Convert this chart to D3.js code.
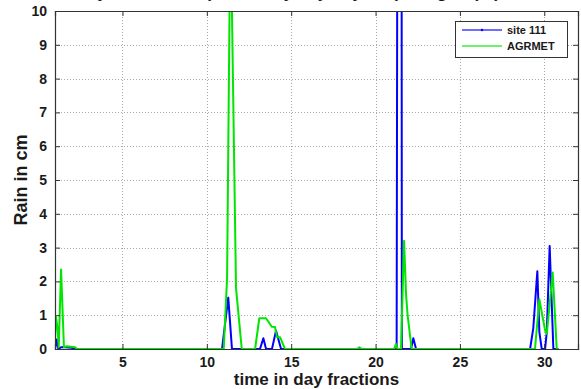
<!DOCTYPE html>
<html>
<head>
<meta charset="utf-8">
<script src="https://cdn.jsdelivr.net/npm/d3@7/dist/d3.min.js"></script>
<style>
  html, body { margin: 0; padding: 0; background: #ffffff; }
  svg { display: block; }
  text { font-family: "Liberation Sans", Arial, sans-serif; font-weight: bold; fill: #1a1a1a; }
</style>
</head>
<body>
<svg id="chart" width="581" height="389"></svg>
<script>
// Rain per observation time (days), station gauge vs AGRMET estimate
const siteTime = [1.0, 1.1, 1.2, 1.35, 1.6, 2.0, 2.1,
  10.9, 11.27, 11.49,
  13.15, 13.35, 13.51, 13.86, 14.1, 14.4,
  21.25, 21.33, 21.53, 21.56, 22.1, 22.24, 22.4,
  29.16, 29.35, 29.59, 29.71, 29.85, 30.05, 30.15, 30.32, 30.54, 30.85];
const siteRain = [0, 0.28, 0, 0.05, 0.05, 0.04, 0,
  0, 1.52, 0,
  0, 0.32, 0, 0, 0.54, 0,
  0, 25, 25, 0, 0, 0.32, 0,
  0, 0.62, 2.3, 0.5, 0, 0, 0.51, 3.05, 0, 0];

const agrTime = [1.0, 1.06, 1.15, 1.22, 1.36, 1.53, 1.7, 2.19, 2.3,
  11.0, 11.2, 11.4, 11.73, 12.07,
  12.86, 13.11, 13.51, 13.85, 14.04, 14.16, 14.34, 14.63,
  18.9, 19.04, 19.2,
  21.1, 21.21, 21.3, 21.51, 21.69, 21.81, 21.9, 22.14,
  29.45, 29.71, 30.05, 30.15, 30.5, 30.74, 30.85];
const agrRain = [0.3, 0.95, 0.6, 0.05, 2.35, 0.05, 0.08, 0.05, 0,
  0, 2.1, 13, 1.8, 0,
  0, 0.91, 0.91, 0.66, 0.65, 0.35, 0.35, 0,
  0, 0.05, 0,
  0, 0.15, 0, 0, 3.2, 1.6, 1.0, 0,
  0, 1.47, 0.55, 0.45, 2.26, 0, 0];

const xTicks = [5, 10, 15, 20, 25, 30];
const yTicks = [0, 1, 2, 3, 4, 5, 6, 7, 8, 9, 10];
const seriesNames = ["site 111", "AGRMET"];
const seriesColors = ["#0000ff", "#00e600"];

const plot = { left: 55, right: 578, top: 11, bottom: 349 };
const svg = d3.select("#chart");

const x = d3.scaleLinear().domain([1, 32]).range([plot.left, plot.right]);
const y = d3.scaleLinear().domain([0, 10]).range([plot.bottom, plot.top]);

// title (sits above the canvas edge, only descenders show)
svg.append("text")
  .attr("x", 500).attr("y", -2)
  .attr("text-anchor", "end")
  .style("font-size", "17px")
  .text("Hourly rainfall comparison by day of year (site_group1)");

// dotted grid
const grid = svg.append("g").attr("stroke", "#a8a8a8").attr("stroke-dasharray", "1,2").attr("stroke-width", 1);
grid.selectAll("line.v").data(xTicks).join("line")
  .attr("x1", d => Math.round(x(d)) + 0.5).attr("x2", d => Math.round(x(d)) + 0.5)
  .attr("y1", plot.top).attr("y2", plot.bottom);
grid.selectAll("line.h").data(yTicks.filter(d => d > 0 && d < 10)).join("line")
  .attr("x1", plot.left).attr("x2", plot.right)
  .attr("y1", d => Math.round(y(d)) + 0.5).attr("y2", d => Math.round(y(d)) + 0.5);

// clipped data lines
svg.append("clipPath").attr("id", "plotclip")
  .append("rect").attr("x", plot.left).attr("y", plot.top)
  .attr("width", plot.right - plot.left).attr("height", plot.bottom - plot.top);

const line = d3.line().x(d => x(d[0])).y(d => y(d[1]));
const lines = svg.append("g").attr("clip-path", "url(#plotclip)");
lines.append("path")
  .datum(d3.zip(siteTime, siteRain))
  .attr("d", line).attr("fill", "none")
  .attr("stroke", seriesColors[0]).attr("stroke-width", 2).attr("stroke-linejoin", "round");
lines.append("path")
  .datum(d3.zip(agrTime, agrRain))
  .attr("d", line).attr("fill", "none")
  .attr("stroke", seriesColors[1]).attr("stroke-width", 2).attr("stroke-linejoin", "round");

// axes box with inward ticks
const axisColor = "#333333";
const gx = svg.append("g").attr("transform", `translate(0,${plot.bottom})`)
  .call(d3.axisBottom(x).tickValues(xTicks).tickSize(-5).tickPadding(8).tickFormat(d3.format("d")));
const gxTop = svg.append("g").attr("transform", `translate(0,${plot.top})`)
  .call(d3.axisTop(x).tickValues(xTicks).tickSize(-5).tickFormat(""));
const gy = svg.append("g").attr("transform", `translate(${plot.left},0)`)
  .call(d3.axisLeft(y).tickValues(yTicks).tickSize(-5).tickPadding(8).tickFormat(d3.format("d")));
const gyRight = svg.append("g").attr("transform", `translate(${plot.right},0)`)
  .call(d3.axisRight(y).tickValues(yTicks).tickSize(-5).tickFormat(""));
[gx, gxTop, gy, gyRight].forEach(g => {
  g.select(".domain").attr("stroke", axisColor).attr("stroke-width", 1.2);
  g.selectAll(".tick line").attr("stroke", axisColor);
  g.selectAll("text").style("font-size", "14px").attr("fill", "#1a1a1a")
    .style("font-family", "'Liberation Sans', Arial, sans-serif").style("font-weight", "bold");
});

// axis labels
svg.append("text")
  .attr("x", (plot.left + plot.right) / 2).attr("y", 385)
  .attr("text-anchor", "middle").style("font-size", "17px")
  .text("time in day fractions");
svg.append("text")
  .attr("transform", `translate(27,${(plot.top + plot.bottom) / 2}) rotate(-90)`)
  .attr("text-anchor", "middle").style("font-size", "18px")
  .text("Rain in cm");

// legend
const lg = svg.append("g");
lg.append("rect").attr("x", 455.5).attr("y", 21.5).attr("width", 112).attr("height", 36)
  .attr("fill", "#ffffff").attr("stroke", axisColor).attr("stroke-width", 1);
seriesNames.forEach((name, i) => {
  const ly = 30 + i * 16;
  lg.append("line").attr("x1", 462).attr("x2", 502).attr("y1", ly).attr("y2", ly)
    .attr("stroke", seriesColors[i]).attr("stroke-width", 1.5).attr("opacity", 0.75);
  if (i === 0) {
    lg.append("circle").attr("cx", 482).attr("cy", ly).attr("r", 1.2).attr("fill", seriesColors[i]);
  }
  lg.append("text").attr("x", 507).attr("y", ly + 4).style("font-size", "11px").text(name);
});
</script>
</body>
</html>
